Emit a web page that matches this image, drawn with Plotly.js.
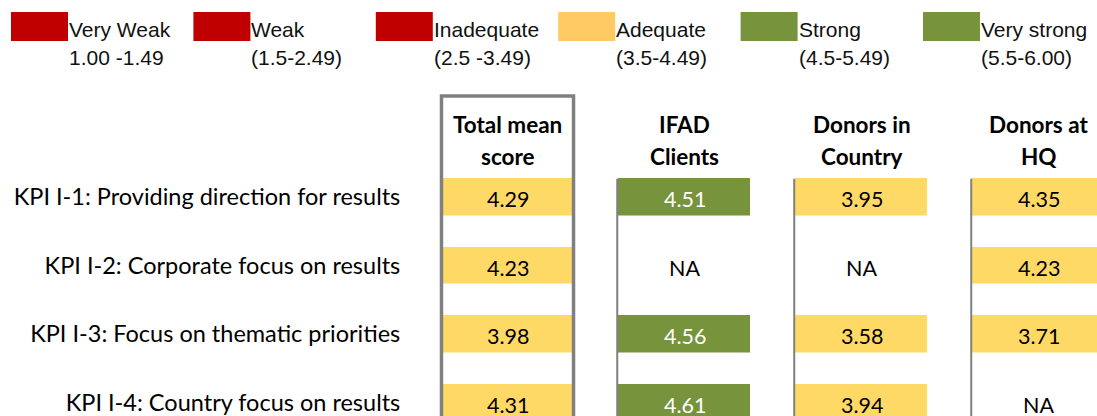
<!DOCTYPE html>
<html>
<head>
<meta charset="utf-8">
<script src="https://cdn.plot.ly/plotly-3.0.1.min.js"></script>
<style>
  html, body { margin: 0; padding: 0; background: #ffffff; }
  #chart { width: 1097px; height: 416px; }
</style>
</head>
<body>
<div id="chart"></div>
<script>
// ---------- DATA ----------
var rowLabels = [
  'KPI I-1: Providing direction for results',
  'KPI I-2: Corporate focus on results',
  'KPI I-3: Focus on thematic priorities',
  'KPI I-4: Country focus on results'
];
var columnKeys = ['Total mean score', 'IFAD Clients', 'Donors in Country', 'Donors at HQ'];
var headerLine1 = ['Total mean', 'IFAD', 'Donors in', 'Donors at'];
var headerLine2 = ['score', 'Clients', 'Country', 'HQ'];

var totalMean     = [4.29, 4.23, 3.98, 4.31];
var ifadClients   = [4.51, null, 4.56, 4.61];
var donorsCountry = [3.95, null, 3.58, 3.94];
var donorsHQ      = [4.35, 4.23, 3.71, null];

var legendNames  = ['Very Weak', 'Weak', 'Inadequate', 'Adequate', 'Strong', 'Very strong'];
var legendRanges = ['1.00 -1.49', '(1.5-2.49)', '(2.5 -3.49)', '(3.5-4.49)', '(4.5-5.49)', '(5.5-6.00)'];
var legendColors = ['#C00000', '#C00000', '#C00000', '#FFC963', '#77933C', '#77933C'];

// ---------- STYLE ----------
var RED = '#C00000', YELLOW = '#FFD966', GREEN = '#77933C', GRAY = '#808080';
var W = 1097, H = 416;
var M = { l: 419, r: 0, t: 163, b: 0 };
var plotW = W - M.l - M.r, plotH = H - M.t - M.b;
var colPitch = 177, rowPitch = 68.5;
var xRange = [-0.5, -0.5 + plotW / colPitch];
var yRange = [-0.5 + plotH / rowPitch, -0.5];
function px2paperX(px) { return (px - M.l) / plotW; }
function px2paperY(py) { return (H - M.b - py) / plotH; }

var columns = [totalMean, ifadClients, donorsCountry, donorsHQ];
// z matrix [row][col]
var z = rowLabels.map(function (_, r) { return columns.map(function (c) { return c[r]; }); });

var trace = {
  type: 'heatmap',
  x: [0, 1, 2, 3],
  y: rowLabels,
  z: z,
  zmin: 1, zmax: 6,
  colorscale: [[0, RED], [0.5, RED], [0.5, YELLOW], [0.7, YELLOW], [0.7, GREEN], [1, GREEN]],
  showscale: false,
  xgap: 45,
  ygap: 31.5,
  hoverinfo: 'skip'
};

var annotations = [];
var shapes = [];

// cell values
rowLabels.forEach(function (lab, r) {
  columns.forEach(function (col, c) {
    var v = col[r];
    annotations.push({
      x: c, y: r, xref: 'x', yref: 'y',
      text: v === null ? 'NA' : v.toFixed(2),
      showarrow: false, yshift: -2,
      font: { family: 'Lato, sans-serif', size: 21.5, color: (v !== null && v >= 4.5) ? '#ffffff' : '#000000' },
      xanchor: 'center', yanchor: 'middle'
    });
  });
});

// headers (column centre from x axis, vertical position in paper space above the plot)
headerLine1.forEach(function (t, c) {
  annotations.push({
    x: c, y: px2paperY(124), xref: 'x', yref: 'paper', text: '<b>' + t + '</b>', showarrow: false,
    font: { family: 'Lato, sans-serif', size: 22.5, color: '#000000' }, xanchor: 'center', yanchor: 'middle'
  });
  annotations.push({
    x: c, y: px2paperY(157), xref: 'x', yref: 'paper', text: '<b>' + headerLine2[c] + '</b>', showarrow: false,
    font: { family: 'Lato, sans-serif', size: 22.5, color: '#000000' }, xanchor: 'center', yanchor: 'middle'
  });
});

// total mean box
shapes.push({
  type: 'rect', xref: 'x', yref: 'paper',
  x0: -0.373, x1: 0.373, y0: -0.2, y1: px2paperY(96),
  line: { color: GRAY, width: 3.5 }, fillcolor: 'rgba(0,0,0,0)', layer: 'above'
});
// thin separators for other columns
for (var c = 1; c < columnKeys.length; c++) {
  shapes.push({
    type: 'line', xref: 'x', yref: 'y',
    x0: c - 0.38, x1: c - 0.38, y0: -0.27, y1: 4,
    line: { color: GRAY, width: 2 }, layer: 'above'
  });
}

// legend
legendNames.forEach(function (name, i) {
  var x0 = 11 + i * 182.4;
  shapes.push({
    type: 'rect', xref: 'paper', yref: 'paper',
    x0: px2paperX(x0), x1: px2paperX(x0 + 57), y0: px2paperY(41), y1: px2paperY(12),
    fillcolor: legendColors[i], line: { width: 0 }
  });
  annotations.push({
    xref: 'paper', yref: 'paper', x: px2paperX(x0 + 56), y: px2paperY(30),
    text: name, showarrow: false, xanchor: 'left', yanchor: 'middle',
    font: { family: 'Liberation Sans, Arial, sans-serif', size: 21, color: '#111111' }
  });
  annotations.push({
    xref: 'paper', yref: 'paper', x: px2paperX(x0 + 56), y: px2paperY(57),
    text: legendRanges[i], showarrow: false, xanchor: 'left', yanchor: 'middle',
    font: { family: 'Liberation Sans, Arial, sans-serif', size: 21, color: '#111111' }
  });
});

var layout = {
  width: W, height: H,
  margin: M,
  paper_bgcolor: '#ffffff', plot_bgcolor: '#ffffff',
  showlegend: false,
  xaxis: { range: xRange, showgrid: false, zeroline: false, showline: false, showticklabels: false, ticks: '', fixedrange: true },
  yaxis: {
    type: 'category', range: yRange, showgrid: false, zeroline: false, showline: false,
    ticks: 'outside', ticklen: 13, tickcolor: 'rgba(0,0,0,0)',
    tickfont: { family: 'Lato, sans-serif', size: 23.5, color: '#000000' }, fixedrange: true
  },
  shapes: shapes,
  annotations: annotations
};

Plotly.newPlot('chart', [trace], layout, { displayModeBar: false, staticPlot: true });
</script>
</body>
</html>
